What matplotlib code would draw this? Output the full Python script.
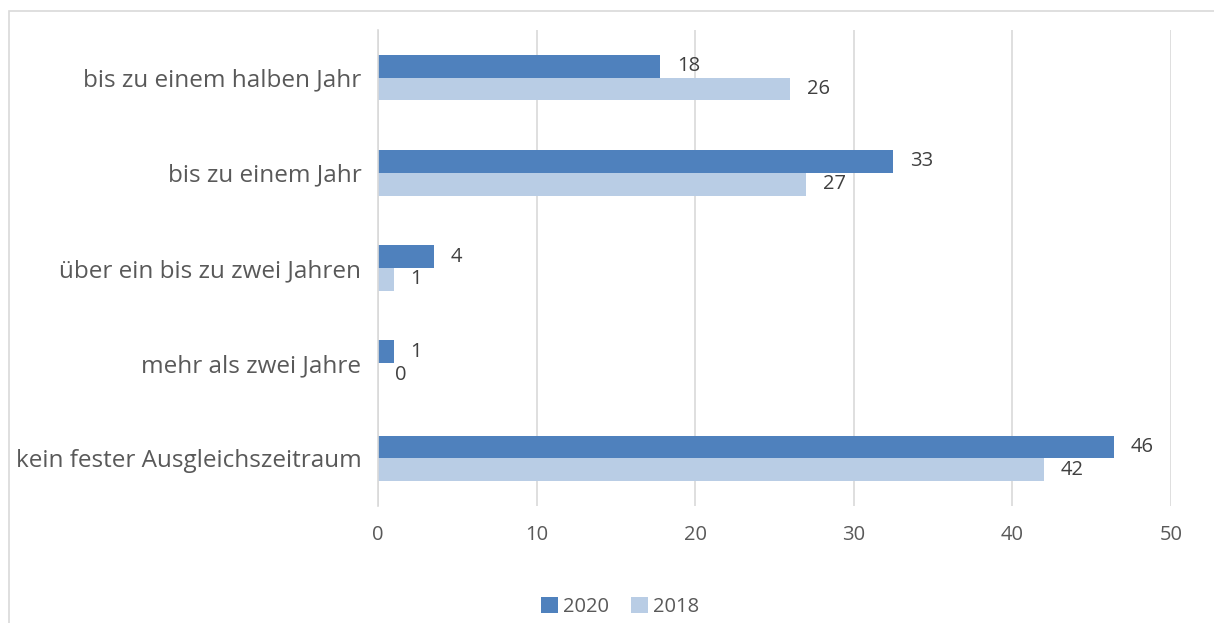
import matplotlib.pyplot as plt
import numpy as np
from matplotlib.patches import Rectangle

categories = ['bis zu einem halben Jahr', 'bis zu einem Jahr', 'über ein bis zu zwei Jahren',
              'mehr als zwei Jahre', 'kein fester Ausgleichszeitraum']
values_2020 = [17.8, 32.5, 3.5, 1.0, 46.4]
values_2018 = [26.0, 27.0, 1.0, 0.0, 42.0]
labels_2020 = ['18', '33', '4', '1', '46']
labels_2018 = ['26', '27', '1', '0', '42']
xticks = [0, 10, 20, 30, 40, 50]

c2020 = '#4f81bd'
c2018 = '#b9cde5'
txt = '#595959'

plt.rcParams['font.family'] = ['Open Sans', 'DejaVu Sans']

fig = plt.figure(figsize=(12.14, 6.23), dpi=100)
ax = fig.add_axes([378 / 1214, 1 - 506 / 623, (1171 - 378) / 1214, (506 - 30) / 623])

# outer chart frame
fig.patches.append(Rectangle((9 / 1214, -0.01), 1.2, 1 - 11 / 623 + 0.01, transform=fig.transFigure,
                             fill=False, edgecolor='#d9d9d9', linewidth=1.2))

y = np.arange(len(categories))
h = 0.24
ax.barh(y - h / 2, values_2020, height=h, color=c2020, label='2020')
ax.barh(y + h / 2, values_2018, height=h, color=c2018, label='2018')

for yi, v, lab in zip(y, values_2020, labels_2020):
    ax.annotate(lab, (v, yi - h / 2), xytext=(12, 0), textcoords='offset points',
                va='center', ha='left', fontsize=14.5, color='#404040')
for yi, v, lab in zip(y, values_2018, labels_2018):
    ax.annotate(lab, (v, yi + h / 2), xytext=(12, 0), textcoords='offset points',
                va='center', ha='left', fontsize=14.5, color='#404040')

ax.set_xlim(0, 50)
ax.set_ylim(len(categories) - 0.5, -0.5)
ax.set_xticks(xticks)
ax.set_yticks(y)
ax.set_yticklabels(categories, fontsize=17.5, color=txt)
ax.tick_params(axis='x', labelsize=14.5, colors=txt, length=0, pad=14)
ax.tick_params(axis='y', length=0, pad=12)
ax.grid(axis='x', color='#d9d9d9', linewidth=1.2)
ax.set_axisbelow(True)
for s in ['top', 'right', 'bottom']:
    ax.spines[s].set_visible(False)
ax.spines['left'].set_color('#d9d9d9')
ax.spines['left'].set_linewidth(1.2)

fig.legend(loc='center', bbox_to_anchor=(620 / 1214, 1 - 607 / 623), ncol=2, frameon=False,
           fontsize=14.5, labelcolor=txt, handlelength=0.85, handleheight=0.85,
           handletextpad=0.25, columnspacing=1.1)

plt.savefig('out.png', dpi=100)
